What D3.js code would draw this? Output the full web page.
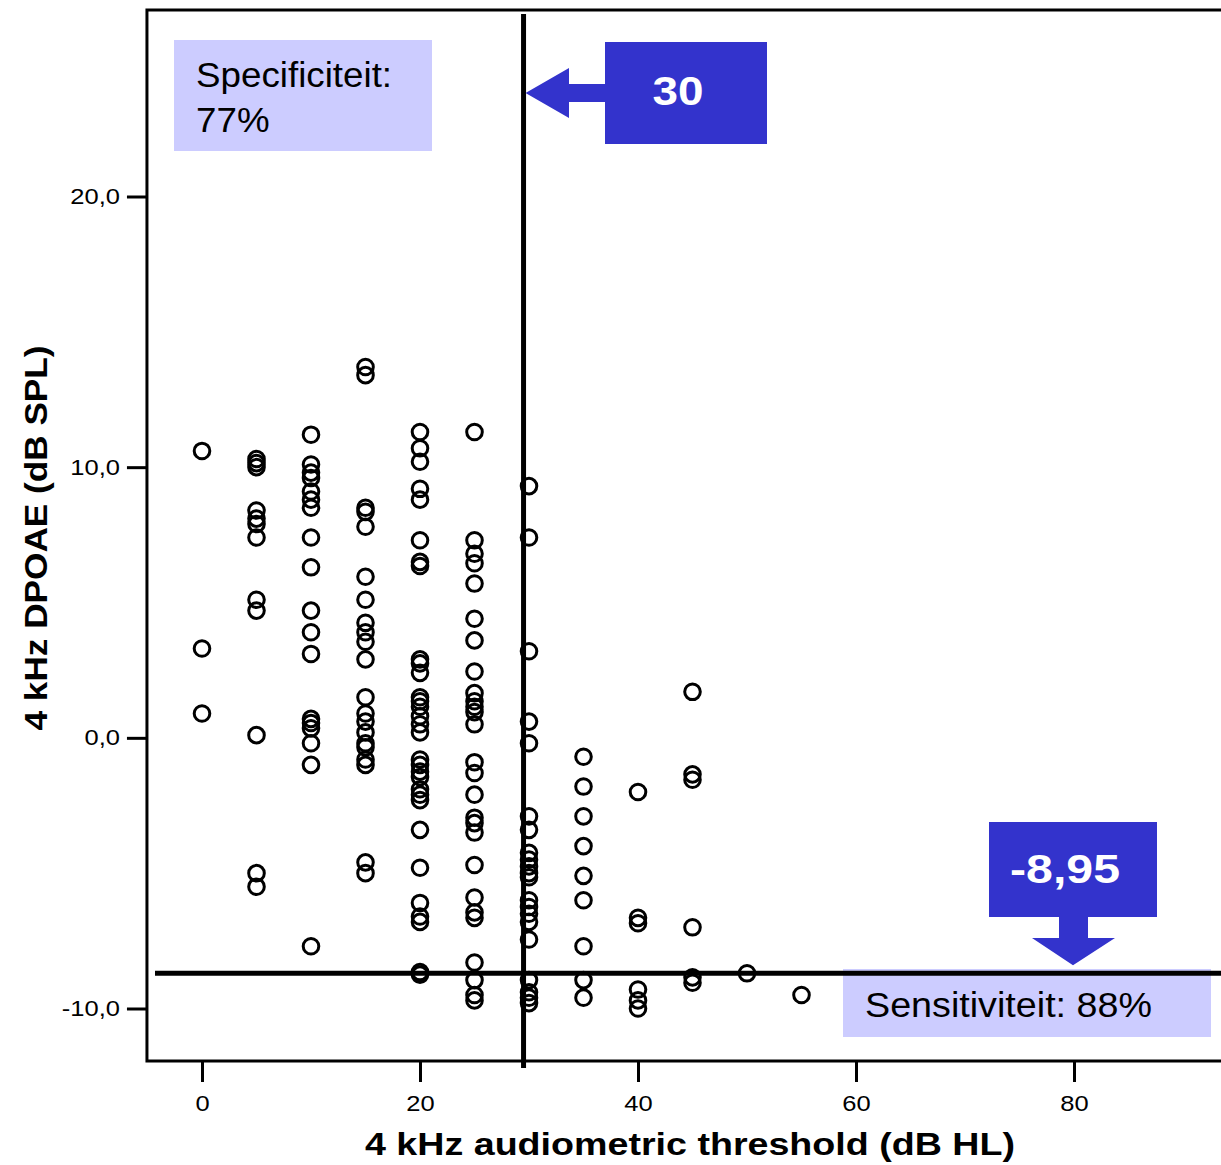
<!DOCTYPE html>
<html>
<head>
<meta charset="utf-8">
<script src="https://cdn.jsdelivr.net/npm/d3@7"></script>
<style>
  body { margin: 0; background: #fff; }
  svg { display: block; }
  text { font-family: "Liberation Sans", Arial, sans-serif; }
</style>
</head>
<body>
<script>
var width = 1221,
    height = 1165;

// audiometric threshold levels (dB HL) and the DPOAE values read per column
const thresholdLevels = [0, 5, 10, 15, 20, 25, 30, 35, 40, 45, 50, 55];
const dpoae0 = [10.6, 3.3, 0.9];
const dpoae5 = [10.3, 10.15, 10.0, 8.4, 8.1, 7.9, 7.4, 5.1, 4.7, 0.1, -5.0, -5.5];
const dpoae10 = [11.2, 10.1, 9.8, 9.6, 9.1, 8.8, 8.5, 7.4, 6.3, 4.7, 3.9, 3.1, 0.7, 0.55, 0.35, -0.2, -1.0, -7.7];
const dpoae15 = [13.7, 13.4, 8.5, 8.35, 7.8, 5.95, 5.1, 4.25, 3.9, 3.55, 2.9, 1.5, 0.9, 0.6, 0.2, -0.2, -0.35, -0.8, -1.0, -4.6, -5.0];
const dpoae20 = [11.3, 10.7, 10.2, 9.2, 8.8, 7.3, 6.5, 6.35, 2.9, 2.75, 2.4, 1.5, 1.35, 1.15, 0.8, 0.5, 0.2,
                 -0.8, -1.0, -1.25, -1.45, -1.9, -2.1, -2.3, -3.4, -4.8, -6.1, -6.6, -6.8, -8.65, -8.75];
const dpoae25 = [11.3, 7.3, 6.8, 6.45, 5.7, 4.4, 3.6, 2.45, 1.65, 1.35, 1.15, 0.95, 0.5, -0.9, -1.3, -2.1,
                 -2.95, -3.15, -3.5, -4.7, -5.9, -6.45, -6.65, -8.3, -8.95, -9.5, -9.7];
const dpoae30 = [9.3, 7.4, 3.2, 0.6, -0.2, -2.9, -3.4, -4.25, -4.5, -4.75, -5.0, -5.15, -6.0, -6.25, -6.5,
                 -6.8, -7.45, -8.95, -9.4, -9.6, -9.8];
const dpoae35 = [-0.7, -1.8, -2.9, -4.0, -5.1, -6.0, -7.7, -8.95, -9.6];
const dpoae40 = [-2.0, -6.65, -6.85, -9.3, -9.7, -10.0];
const dpoae45 = [1.7, -1.35, -1.55, -7.0, -8.85, -9.05];
const dpoae50 = [-8.7];
const dpoae55 = [-9.5];
const columns = [dpoae0, dpoae5, dpoae10, dpoae15, dpoae20, dpoae25, dpoae30, dpoae35, dpoae40, dpoae45, dpoae50, dpoae55];

const xTicks = [0, 20, 40, 60, 80];
const yTicks = [-10, 0, 10, 20];

// cut-off lines (drawn position) and their labels
const cutX = 29.5, cutXLabel = "30";
const cutY = -8.7, cutYLabel = "-8,95";
const specLines = ["Specificiteit:", "77%"];
const sensLabel = "Sensitiviteit:  88%";

var points = [];
thresholdLevels.forEach(function (t, i) {
    columns[i].forEach(function (v) { points.push({ x: t, y: v }); });
});

var svg = d3.select("body").append("svg")
    .attr("width", width)
    .attr("height", height);

var x = d3.scaleLinear().domain([0, 80]).range([202, 1074]);
var y = d3.scaleLinear().domain([-10, 20]).range([1008.5, 196.5]);

var frame = { left: x(-5.05), top: 10, bottom: 1061, right: width + 5 };

// stretch text horizontally, the original lettering is wide
function stretch(sel, k) {
    sel.each(function () {
        var l = this.getComputedTextLength();
        d3.select(this).attr("textLength", l * k).attr("lengthAdjust", "spacingAndGlyphs");
    });
}

// frame
svg.append("rect")
    .attr("x", frame.left).attr("y", frame.top)
    .attr("width", frame.right - frame.left).attr("height", frame.bottom - frame.top)
    .attr("fill", "none").attr("stroke", "#000").attr("stroke-width", 3);

// axes
var xAxis = svg.append("g")
    .attr("transform", "translate(0," + frame.bottom + ")")
    .call(d3.axisBottom(x).tickValues(xTicks).tickSize(21).tickPadding(13).tickFormat(d3.format("d")));
var yAxis = svg.append("g")
    .attr("transform", "translate(" + frame.left + ",0)")
    .call(d3.axisLeft(y).tickValues(yTicks).tickSize(20).tickPadding(7)
        .tickFormat(function (d) { return d.toFixed(1).replace(".", ","); }));

[xAxis, yAxis].forEach(function (a) {
    a.select(".domain").remove();
    a.selectAll(".tick line").attr("stroke", "#000").attr("stroke-width", 3);
    a.selectAll(".tick text")
        .attr("fill", "#000")
        .style("font-family", "'Liberation Sans', Arial, sans-serif")
        .style("font-size", "22px")
        .call(stretch, 1.16);
});

// axis titles
svg.append("text")
    .attr("x", 690).attr("y", 1155)
    .attr("text-anchor", "middle")
    .style("font-size", "32px").style("font-weight", "bold")
    .attr("textLength", 650).attr("lengthAdjust", "spacingAndGlyphs")
    .text("4 kHz audiometric threshold (dB HL)");

svg.append("text")
    .attr("transform", "translate(47,538) rotate(-90)")
    .attr("text-anchor", "middle")
    .style("font-size", "32px").style("font-weight", "bold")
    .attr("textLength", 385).attr("lengthAdjust", "spacingAndGlyphs")
    .text("4 kHz DPOAE (dB SPL)");

// light annotation boxes
var light = "#ccccff", dark = "#3333cc";

svg.append("rect").attr("x", 174).attr("y", 40).attr("width", 258).attr("height", 111).attr("fill", light);
svg.selectAll(".spec").data(specLines).join("text")
    .attr("class", "spec")
    .attr("x", 196).attr("y", function (d, i) { return 87 + i * 45; })
    .style("font-size", "35px")
    .text(function (d) { return d; })
    .call(stretch, 1.05);

svg.append("rect").attr("x", 843).attr("y", 969).attr("width", 368).attr("height", 68).attr("fill", light);
svg.append("text")
    .attr("x", 865).attr("y", 1017)
    .style("font-size", "35px")
    .attr("textLength", 287).attr("lengthAdjust", "spacingAndGlyphs")
    .text(sensLabel);

// points
svg.append("g").selectAll("circle").data(points).join("circle")
    .attr("cx", function (d) { return x(d.x); })
    .attr("cy", function (d) { return y(d.y); })
    .attr("r", 7.8)
    .attr("fill", "none")
    .attr("stroke", "#000")
    .attr("stroke-width", 3);

// cut-off lines
svg.append("line")
    .attr("x1", x(cutX)).attr("x2", x(cutX))
    .attr("y1", 14).attr("y2", 1068)
    .attr("stroke", "#000").attr("stroke-width", 5);
svg.append("line")
    .attr("x1", 155).attr("x2", width)
    .attr("y1", y(cutY)).attr("y2", y(cutY))
    .attr("stroke", "#000").attr("stroke-width", 5);

// arrow pointing at the vertical cut-off
var tipX = x(cutX) + 2;
svg.append("rect").attr("x", 605).attr("y", 42).attr("width", 162).attr("height", 102).attr("fill", dark);
svg.append("polygon")
    .attr("points", [[605, 84], [569, 84], [569, 68], [tipX, 93], [569, 118], [569, 102], [605, 102]].join(" "))
    .attr("fill", dark);
svg.append("text")
    .attr("x", 678).attr("y", 105)
    .attr("text-anchor", "middle")
    .attr("fill", "#fff")
    .style("font-size", "40px").style("font-weight", "bold")
    .attr("textLength", 51).attr("lengthAdjust", "spacingAndGlyphs")
    .text(cutXLabel);

// arrow pointing at the horizontal cut-off
var tipY = y(cutY) - 8;
svg.append("rect").attr("x", 989).attr("y", 822).attr("width", 168).attr("height", 95).attr("fill", dark);
svg.append("polygon")
    .attr("points", [[1059, 916], [1088, 916], [1088, 938], [1115, 938], [1073, tipY], [1032, 938], [1059, 938]].join(" "))
    .attr("fill", dark);
svg.append("text")
    .attr("x", 1065).attr("y", 883)
    .attr("text-anchor", "middle")
    .attr("fill", "#fff")
    .style("font-size", "40px").style("font-weight", "bold")
    .attr("textLength", 110).attr("lengthAdjust", "spacingAndGlyphs")
    .text(cutYLabel);
</script>
</body>
</html>
